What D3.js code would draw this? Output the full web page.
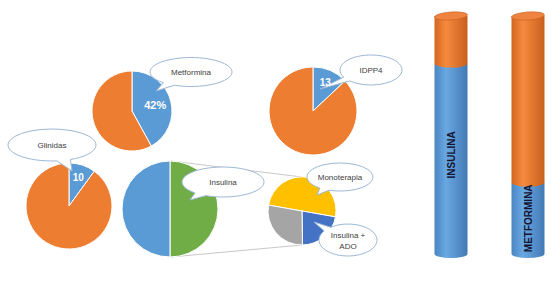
<!DOCTYPE html>
<html>
<head>
<meta charset="utf-8">
<script src="https://cdn.jsdelivr.net/npm/d3@7"></script>
<style>
  body { margin: 0; background: #fff; }
  svg { display: block; font-family: "Liberation Sans", Arial, sans-serif; }
</style>
</head>
<body>
<div id="chart"></div>
<script>
// --- data ---
var metforminaValues = [42, 58];
var idpp4Values = [13, 87];
var glinidasValues = [10, 90];
var insulinaValues = [50, 50];          // resto (verde), insulina (azul)
var insulinaSubValues = [50, 22, 28];   // monoterapia, insulina + ADO, otros
var pieLabels = ["42%", "13", "10"];
var calloutLabels = ["Metformina", "IDPP4", "Glinidas", "Insulina", "Monoterapia", "Insulina +|ADO"];
var cylinderCategories = ["INSULINA", "METFORMINA"];
var cylinderBlue = [80, 30];
var cylinderOrange = [20, 70];

(function() {
    var width = 560, height = 286;
    var blue = "#5B9BD5", orange = "#ED7D31", green = "#70AD47",
        yellow = "#FFC000", grey = "#A5A5A5", darkBlue = "#4472C4";

    var svg = d3.select("#chart").append("svg")
        .attr("width", width)
        .attr("height", height);

    var defs = svg.append("defs");
    var pieLayer = svg.append("g");
    var calloutLayer = svg.append("g");
    var labelLayer = svg.append("g");

    function drawPie(values, colors, cx, cy, r, startAngle) {
        var pie = d3.pie().sort(null)
            .startAngle(startAngle)
            .endAngle(startAngle + 2 * Math.PI);
        var arc = d3.arc().innerRadius(0).outerRadius(r);
        var g = pieLayer.append("g").attr("transform", "translate(" + cx + "," + cy + ")");
        var arcs = pie(values);
        g.selectAll("path").data(arcs).enter().append("path")
            .attr("d", arc)
            .attr("fill", function(d, i) { return colors[i]; })
            .attr("stroke", "#fff")
            .attr("stroke-width", 1);
        return {cx: cx, cy: cy, arcs: arcs, r: r};
    }

    function sliceLabel(p, text, factor, size) {
        var a = d3.arc().innerRadius(p.r * factor).outerRadius(p.r * factor);
        var c = a.centroid(p.arcs[0]);
        labelLayer.append("text")
            .attr("x", p.cx + c[0]).attr("y", p.cy + c[1])
            .attr("text-anchor", "middle")
            .attr("dominant-baseline", "central")
            .attr("fill", "#fff")
            .attr("font-weight", "bold")
            .attr("font-size", size)
            .text(text);
    }

    function callout(cx, cy, rx, ry, tx, ty, label) {
        var t = Math.atan2((ty - cy) / ry, (tx - cx) / rx);
        var dt = 0.16;
        var p1 = [cx + rx * Math.cos(t + dt), cy + ry * Math.sin(t + dt)];
        var p2 = [cx + rx * Math.cos(t - dt), cy + ry * Math.sin(t - dt)];
        calloutLayer.append("path")
            .attr("d", "M" + p1 + " A" + rx + " " + ry + " 0 1 1 " + p2 + " L" + tx + "," + ty + " Z")
            .attr("fill", "#fff")
            .attr("stroke", "#9db8d4")
            .attr("stroke-width", 1);
        var lines = label.split("|");
        var txt = calloutLayer.append("text")
            .attr("text-anchor", "middle")
            .attr("fill", "#404040")
            .attr("font-size", 8);
        lines.forEach(function(l, i) {
            txt.append("tspan")
                .attr("x", cx)
                .attr("y", cy + 3 + (i - (lines.length - 1) / 2) * 11)
                .text(l);
        });
    }

    // --- pies ---
    var pMet = drawPie(metforminaValues, [blue, orange], 132, 111, 40, 0);
    sliceLabel(pMet, pieLabels[0], 0.6, 11);
    var pIdp = drawPie(idpp4Values, [blue, orange], 313, 111, 44, 0);
    sliceLabel(pIdp, pieLabels[1], 0.7, 10);
    var pGli = drawPie(glinidasValues, [blue, orange], 69, 206, 43, 0);
    sliceLabel(pGli, pieLabels[2], 0.7, 10);

    // pie of pie connectors
    pieLayer.append("line").attr("x1", 171).attr("y1", 161).attr("x2", 302).attr("y2", 177)
        .attr("stroke", "#c8c8c8").attr("stroke-width", 1);
    pieLayer.append("line").attr("x1", 171).attr("y1", 257).attr("x2", 302).attr("y2", 245)
        .attr("stroke", "#c8c8c8").attr("stroke-width", 1);

    drawPie(insulinaValues, [green, blue], 170, 209, 48, 0);
    drawPie(insulinaSubValues, [yellow, darkBlue, grey], 302, 211, 34, -80 * Math.PI / 180);

    // --- callouts ---
    callout(191, 72, 41, 14.5, 156, 91, calloutLabels[0]);
    callout(371, 70, 31, 15, 320, 89, calloutLabels[1]);
    callout(52, 145, 44, 16, 72, 171, calloutLabels[2]);
    callout(223, 182, 41, 15, 190, 200, calloutLabels[3]);
    callout(340, 177, 33, 14, 317, 195, calloutLabels[4]);
    callout(348, 240, 29, 16, 314, 222, calloutLabels[5]);

    // --- cylinders (100% stacked) ---
    function grad(id, c0, c1, c2) {
        var lg = defs.append("linearGradient").attr("id", id)
            .attr("x1", 0).attr("x2", 1).attr("y1", 0).attr("y2", 0);
        lg.append("stop").attr("offset", "0%").attr("stop-color", c0);
        lg.append("stop").attr("offset", "35%").attr("stop-color", c1);
        lg.append("stop").attr("offset", "100%").attr("stop-color", c2);
    }
    grad("gBlue", "#4a86c2", "#69a8e2", "#4279b3");
    grad("gOrange", "#d4661f", "#f58b3f", "#c85f1c");

    var x = d3.scalePoint().domain(cylinderCategories).range([451, 528]);
    var y = d3.scaleLinear().domain([0, 100]).range([254, 16]);
    var rx = 16.5, ry = 4;

    function segment(cx, y0, y1, fill) {
        return svg.append("path")
            .attr("d", "M" + (cx - rx) + "," + y1 + " L" + (cx - rx) + "," + y0 +
                " A" + rx + " " + ry + " 0 0 0 " + (cx + rx) + "," + y0 +
                " L" + (cx + rx) + "," + y1 + " Z")
            .attr("fill", fill);
    }

    cylinderCategories.forEach(function(cat, i) {
        var cx = x(cat);
        segment(cx, y(0), y(cylinderBlue[i]), "url(#gBlue)");
        segment(cx, y(cylinderBlue[i]), y(cylinderBlue[i] + cylinderOrange[i]), "url(#gOrange)");
        svg.append("ellipse")
            .attr("cx", cx).attr("cy", y(100))
            .attr("rx", rx).attr("ry", ry)
            .attr("transform", "rotate(-4," + cx + "," + y(100) + ")")
            .attr("fill", "#ee8440")
            .attr("stroke", "#c65e1b")
            .attr("stroke-width", 0.6);
        var ty = (y(0) + y(cylinderBlue[i])) / 2 - (i === 0 ? 4 : 0);
        svg.append("text")
            .attr("transform", "translate(" + (cx + 3.5) + "," + ty + ") rotate(-90)")
            .attr("text-anchor", "middle")
            .attr("font-weight", "bold")
            .attr("font-size", 10)
            .attr("fill", "#141433")
            .text(cat);
    });
})();
</script>
</body>
</html>
